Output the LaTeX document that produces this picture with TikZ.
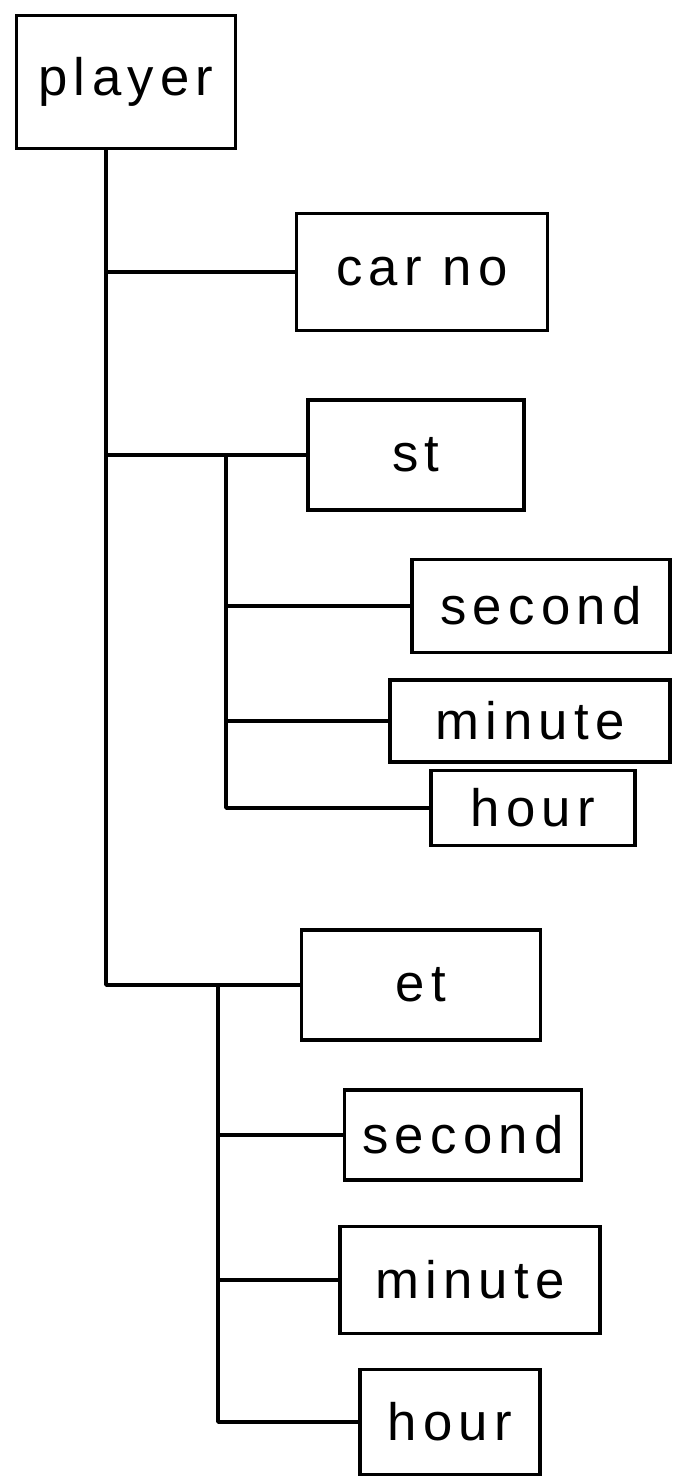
\documentclass[tikz,border=0pt]{standalone}
\usepackage{fontspec}
\newfontfamily\handfont[LetterSpace=12]{Liberation Sans}
\usetikzlibrary{calc}
\tikzset{
	box/.style={draw, line width=2pt, rectangle, inner sep=0pt, font=\handfont\fontsize{30}{36}\selectfont},
	link/.style={line width=2pt, line join=round, line cap=round}
}

\begin{document}
\begin{tikzpicture}[x=0.02cm, y=-0.02cm]
		%%%%% START %%%%%
		\useasboundingbox (0, 0) rectangle (676, 1484);
		
		\node[box, minimum width=4.38cm, minimum height=2.66cm] (player) at (126, 82) {player};
		
		\node[box, minimum width=5.02cm, minimum height=2.34cm] (carno) at (422, 272) {car no};
		\node[box, minimum width=4.32cm, minimum height=2.2cm] (st) at (416, 455) {st};
		
		\node[box, minimum width=5.16cm, minimum height=1.86cm] (stsec) at (541, 606) {second};
		\node[box, minimum width=5.6cm, minimum height=1.64cm] (stmin) at (530, 721) {minute};
		\node[box, minimum width=4.08cm, minimum height=1.5cm] (sthour) at (533, 808) {hour};
		
		\node[box, minimum width=4.78cm, minimum height=2.2cm] (et) at (421, 985) {et};
		
		\node[box, minimum width=4.74cm, minimum height=1.8cm] (etsec) at (463, 1135) {second};
		\node[box, minimum width=5.2cm, minimum height=2.14cm] (etmin) at (470, 1280) {minute};
		\node[box, minimum width=3.6cm, minimum height=2.1cm] (ethour) at (450, 1422) {hour};
		
		% main trunk
		\coordinate (trunk) at (106, 0);
		\draw[link] (player.south -| trunk) -- (trunk |- et.west) -- (et.west);
		\draw[link] (trunk |- carno.west) -- (carno.west);
		\draw[link] (trunk |- st.west) -- (st.west);
		
		% st branch
		\coordinate (stbar) at (226, 0);
		\draw[link] (stbar |- st.west) -- (stbar |- sthour.west) -- (sthour.west);
		\draw[link] (stbar |- stsec.west) -- (stsec.west);
		\draw[link] (stbar |- stmin.west) -- (stmin.west);
		
		% et branch
		\coordinate (etbar) at (218, 0);
		\draw[link] (etbar |- et.west) -- (etbar |- ethour.west) -- (ethour.west);
		\draw[link] (etbar |- etsec.west) -- (etsec.west);
		\draw[link] (etbar |- etmin.west) -- (etmin.west);
		
		%%%%% END %%%%%
\end{tikzpicture}
\end{document}
